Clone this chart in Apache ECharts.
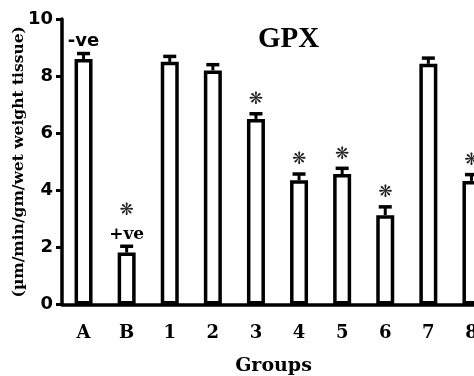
<!DOCTYPE html>
<html>
<head>
<meta charset="utf-8">
<script src="https://cdn.jsdelivr.net/npm/echarts@6/dist/echarts.min.js"></script>
<style>html,body{margin:0;padding:0;background:#fff}#c{width:474px;height:376px}</style>
</head>
<body>
<div id="c"></div>
<script>
var categories = ['A', 'B', '1', '2', '3', '4', '5', '6', '7', '8'];
var means = [8.6, 1.82, 8.5, 8.2, 6.5, 4.35, 4.57, 3.13, 8.43, 4.33];
var errors = [0.19, 0.22, 0.19, 0.2, 0.18, 0.22, 0.2, 0.29, 0.2, 0.22];
var stars = [0, 1, 0, 0, 1, 1, 1, 1, 0, 1];
var notes = ['-ve', '+ve', '', '', '', '', '', '', '', ''];
var yTicks = [0, 2, 4, 6, 8, 10];

var errData = categories.map(function (c, i) { return [i, means[i], errors[i], stars[i], i]; });

var chart = echarts.init(document.getElementById('c'), null, { renderer: 'canvas' });
chart.setOption({
  animation: false,
  backgroundColor: '#fff',
  title: {
    text: 'GPX', left: 253, top: 20,
    textStyle: { fontFamily: 'Liberation Serif', fontWeight: 'bold', fontSize: 29, color: '#000' }
  },
  grid: { left: 62, top: 19, right: -19, bottom: 71.5, containLabel: false, outerBoundsMode: 'none' },
  xAxis: {
    type: 'category', data: categories,
    name: 'Groups', nameLocation: 'middle', nameGap: 52,
    nameTextStyle: { fontFamily: 'DejaVu Serif', fontWeight: 'bold', fontSize: 19, color: '#000', padding: [0, 8, 0, 0] },
    axisLine: { lineStyle: { color: '#000', width: 3.5 } },
    axisTick: { alignWithLabel: true, length: 8, lineStyle: { color: '#000', width: 3 } },
    axisLabel: { margin: 20, fontFamily: 'DejaVu Serif', fontWeight: 'bold', fontSize: 18, color: '#000' }
  },
  yAxis: {
    type: 'value', min: yTicks[0], max: yTicks[yTicks.length - 1], interval: 2,
    name: '(µm/min/gm/wet weight tissue)', nameLocation: 'middle', nameGap: 35, nameMoveOverlap: false,
    nameTextStyle: { fontFamily: 'DejaVu Serif', fontWeight: 'bold', fontSize: 15.5, color: '#000' },
    axisLine: { show: true, lineStyle: { color: '#000', width: 3.5 } },
    axisTick: { show: true, length: 6, lineStyle: { color: '#000', width: 3 } },
    splitLine: { show: false },
    axisLabel: { margin: 9, fontFamily: 'DejaVu Sans', fontWeight: 'bold', fontSize: 18, color: '#000' }
  },
  series: [
    {
      type: 'bar', data: means, barWidth: 18,
      itemStyle: { color: '#fff', borderColor: '#000', borderWidth: 3.5 },
      z: 2
    },
    {
      type: 'custom', data: errData, z: 3,
      renderItem: function (params, api) {
        var i = api.value(0), m = api.value(1), e = api.value(2), s = api.value(3);
        var base = api.coord([i, m]);
        var top = api.coord([i, m + e]);
        var ch = [
          { type: 'line', shape: { x1: base[0], y1: base[1], x2: top[0], y2: top[1] }, style: { stroke: '#000', lineWidth: 3 } },
          { type: 'line', shape: { x1: top[0] - 6.5, y1: top[1], x2: top[0] + 6.5, y2: top[1] }, style: { stroke: '#000', lineWidth: 3.5 } }
        ];
        var note = notes[i];
        var y = top[1];
        if (note) {
          var isNeg = note.charAt(0) === '-';
          ch.push({ type: 'text', style: {
            text: note, x: top[0], y: y - 12, align: 'center', verticalAlign: 'middle',
            font: isNeg ? 'bold 18px "DejaVu Sans"' : 'bold 17px "DejaVu Serif"', fill: '#000' } });
          y -= 22;
        }
        if (s) {
          ch.push({ type: 'text', style: {
            text: '❋', x: top[0], y: y - 14, align: 'center', verticalAlign: 'middle',
            font: '17px "DejaVu Sans"', fill: '#222' } });
        }
        return { type: 'group', children: ch };
      }
    }
  ]
});
</script>
</body>
</html>
